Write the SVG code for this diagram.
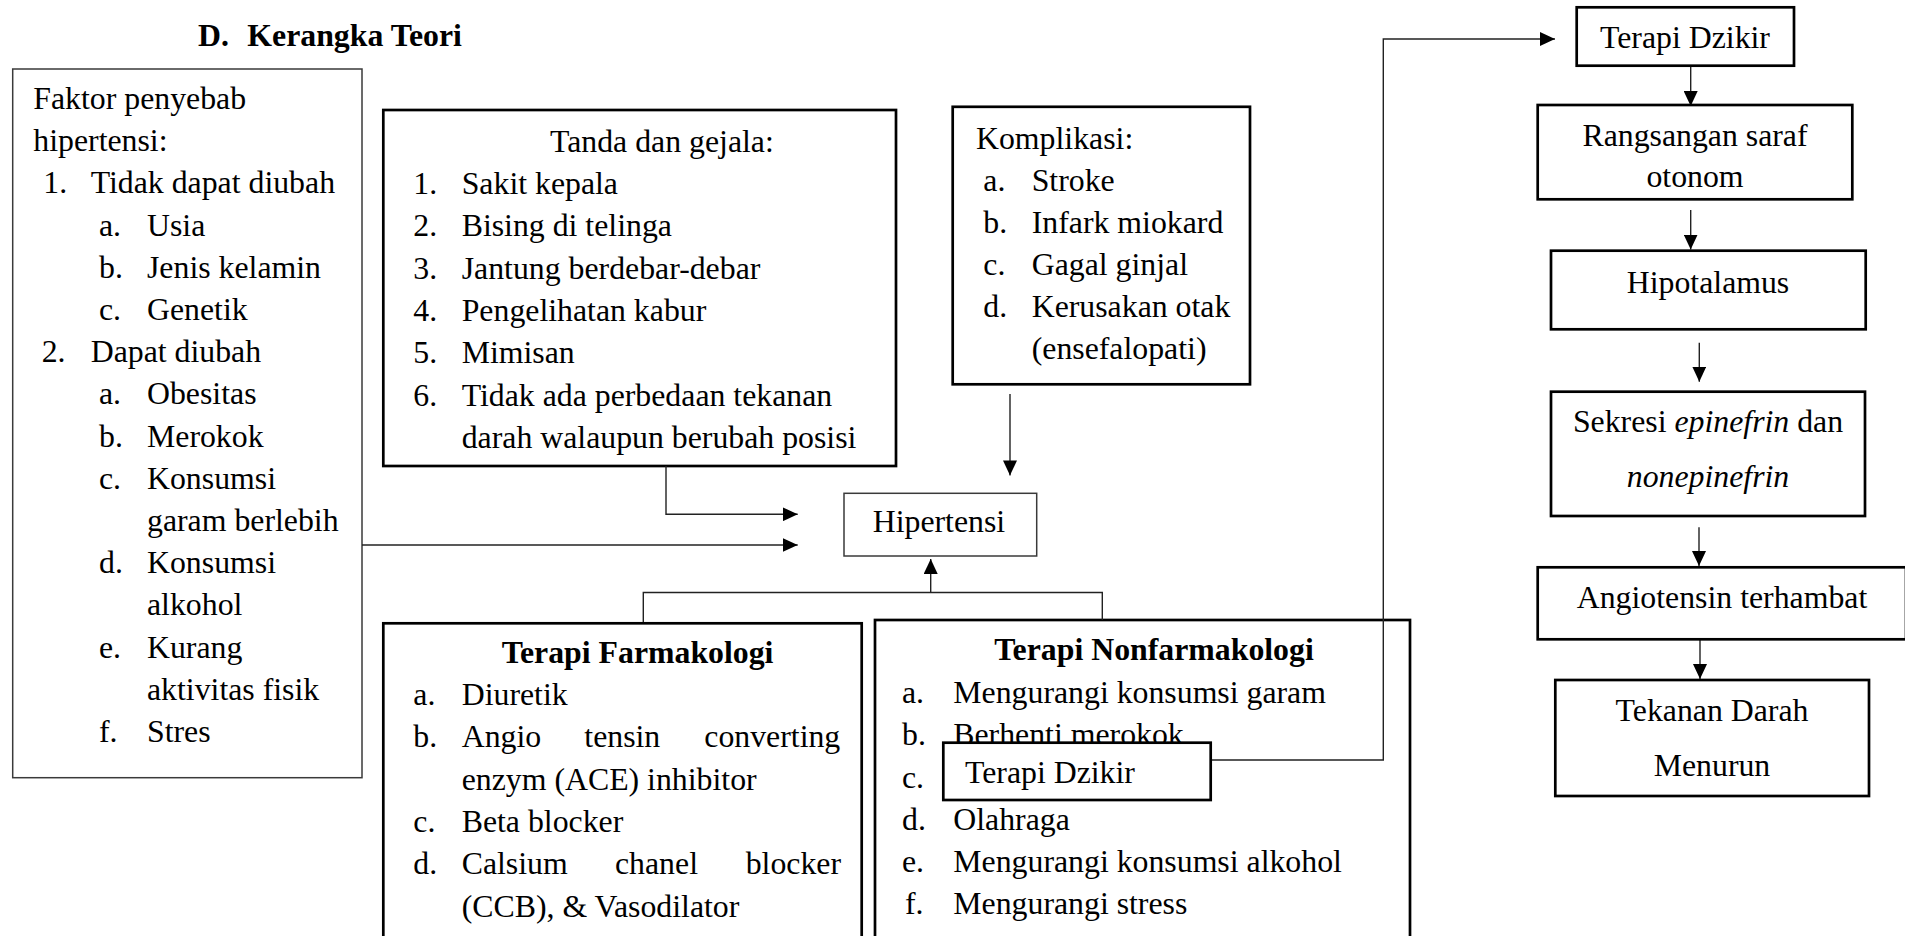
<svg xmlns="http://www.w3.org/2000/svg" width="1905" height="936" viewBox="0 0 1905 936">
<style>
.t{font-family:"Liberation Serif","Times New Roman",serif;font-size:31.8px;fill:#000}
.b{font-weight:bold}
.i{font-style:italic}
.m{text-anchor:middle}
.thin{fill:#fff;stroke:#3a3a3a;stroke-width:1.5}
.thick{fill:#fff;stroke:#000;stroke-width:2.7}
.c{fill:none;stroke:#222;stroke-width:1.4}
</style>
<defs>
<marker id="ah" viewBox="0 0 15 14" refX="15" refY="7" markerWidth="15" markerHeight="14" markerUnits="userSpaceOnUse" orient="auto"><path d="M0,0 L15,7 L0,14 Z" fill="#000"/></marker>
</defs>
<rect width="1905" height="936" fill="#fff"/>
<text class="t b" y="45.7"><tspan x="198">D.</tspan><tspan x="247.3">Kerangka Teori</tspan></text>

<g id="faktor">
<rect class="thin" x="12.7" y="69" width="349.3" height="708.7"/>
<text class="t" x="33.3" y="109">Faktor penyebab</text>
<text class="t" x="33.3" y="151.2">hipertensi:</text>
<text class="t" x="43.3" y="193.4">1.</text><text class="t" x="90.7" y="193.4">Tidak dapat diubah</text>
<text class="t" x="99" y="235.6">a.</text><text class="t" x="147" y="235.6">Usia</text>
<text class="t" x="99" y="277.8">b.</text><text class="t" x="147" y="277.8">Jenis kelamin</text>
<text class="t" x="99" y="320">c.</text><text class="t" x="147" y="320">Genetik</text>
<text class="t" x="41.7" y="362.2">2.</text><text class="t" x="90.7" y="362.2">Dapat diubah</text>
<text class="t" x="99" y="404.4">a.</text><text class="t" x="147" y="404.4">Obesitas</text>
<text class="t" x="99" y="446.6">b.</text><text class="t" x="147" y="446.6">Merokok</text>
<text class="t" x="99" y="488.8">c.</text><text class="t" x="147" y="488.8">Konsumsi</text>
<text class="t" x="147" y="531">garam berlebih</text>
<text class="t" x="99" y="573.2">d.</text><text class="t" x="147" y="573.2">Konsumsi</text>
<text class="t" x="147" y="615.4">alkohol</text>
<text class="t" x="99" y="657.6">e.</text><text class="t" x="147" y="657.6">Kurang</text>
<text class="t" x="147" y="699.8">aktivitas fisik</text>
<text class="t" x="99" y="742">f.</text><text class="t" x="147" y="742">Stres</text>
</g>

<g id="tanda">
<rect class="thick" x="383.3" y="110" width="512.7" height="356"/>
<text class="t" x="550" y="151.7">Tanda dan gejala:</text>
<text class="t" x="413.3" y="194">1.</text><text class="t" x="461.7" y="194">Sakit kepala</text>
<text class="t" x="413.3" y="236.3">2.</text><text class="t" x="461.7" y="236.3">Bising di telinga</text>
<text class="t" x="413.3" y="278.6">3.</text><text class="t" x="461.7" y="278.6">Jantung berdebar-debar</text>
<text class="t" x="413.3" y="320.9">4.</text><text class="t" x="461.7" y="320.9">Pengelihatan kabur</text>
<text class="t" x="413.3" y="363.2">5.</text><text class="t" x="461.7" y="363.2">Mimisan</text>
<text class="t" x="413.3" y="405.5">6.</text><text class="t" x="461.7" y="405.5">Tidak ada perbedaan tekanan</text>
<text class="t" x="461.7" y="447.8">darah walaupun berubah posisi</text>
</g>

<g id="komplikasi">
<rect class="thick" x="952.7" y="106.8" width="297.3" height="277.5"/>
<text class="t" x="976" y="148.6">Komplikasi:</text>
<text class="t" x="983.3" y="190.7">a.</text><text class="t" x="1031.7" y="190.7">Stroke</text>
<text class="t" x="983.3" y="232.8">b.</text><text class="t" x="1031.7" y="232.8">Infark miokard</text>
<text class="t" x="983.3" y="274.9">c.</text><text class="t" x="1031.7" y="274.9">Gagal ginjal</text>
<text class="t" x="983.3" y="317">d.</text><text class="t" x="1031.7" y="317">Kerusakan otak</text>
<text class="t" x="1031.7" y="359.1">(ensefalopati)</text>
</g>

<g id="hipertensi">
<rect class="thin" x="844" y="493.3" width="192.7" height="62.7"/>
<text class="t" x="872.7" y="532">Hipertensi</text>
</g>

<g id="farmakologi">
<rect class="thick" x="383.3" y="623.3" width="478.4" height="330"/>
<text class="t b" x="501.7" y="663.3">Terapi Farmakologi</text>
<text class="t" x="413.3" y="705">a.</text><text class="t" x="461.7" y="705">Diuretik</text>
<text class="t" x="413.3" y="747.3">b.</text><text class="t" y="747.3"><tspan x="461.7">Angio</tspan><tspan x="584.3">tensin</tspan><tspan x="704.3">converting</tspan></text>
<text class="t" x="461.7" y="789.6">enzym (ACE) inhibitor</text>
<text class="t" x="413.3" y="831.9">c.</text><text class="t" x="461.7" y="831.9">Beta blocker</text>
<text class="t" x="413.3" y="874.2">d.</text><text class="t" y="874.2"><tspan x="461.7">Calsium</tspan><tspan x="615">chanel</tspan><tspan x="745.7">blocker</tspan></text>
<text class="t" x="461.7" y="916.5">(CCB), &amp; Vasodilator</text>
</g>

<g id="nonfarmakologi">
<rect class="thick" x="875" y="620" width="535" height="330"/>
<text class="t b" x="994.3" y="660">Terapi Nonfarmakologi</text>
<text class="t" x="902" y="703.3">a.</text><text class="t" x="953.3" y="703.3">Mengurangi konsumsi garam</text>
<text class="t" x="902" y="745.4">b.</text><text class="t" x="953.3" y="745.4">Berhenti merokok</text>
<text class="t" x="902" y="787.5">c.</text>
<text class="t" x="902" y="829.6">d.</text><text class="t" x="953.3" y="829.6">Olahraga</text>
<text class="t" x="902" y="871.7">e.</text><text class="t" x="953.3" y="871.7">Mengurangi konsumsi alkohol</text>
<text class="t" x="905" y="913.8">f.</text><text class="t" x="953.3" y="913.8">Mengurangi stress</text>
</g>

<g id="connectors">
<path class="c" d="M362,545 H797.7" marker-end="url(#ah)"/>
<path class="c" d="M666,466 V514.3 H797.7" marker-end="url(#ah)"/>
<path class="c" d="M1010,394 V475.4" marker-end="url(#ah)"/>
<path class="c" d="M643.3,622 V592.5 H1102.3 V620"/>
<path class="c" d="M930.7,592.5 V559" marker-end="url(#ah)"/>
<path class="c" d="M1210.7,760 H1383.3 V39 H1555" marker-end="url(#ah)"/>
<path class="c" d="M1690.7,67 V106" marker-end="url(#ah)"/>
<path class="c" d="M1690.7,210 V249.5" marker-end="url(#ah)"/>
<path class="c" d="M1699.3,342.7 V381.7" marker-end="url(#ah)"/>
<path class="c" d="M1699,527.3 V566" marker-end="url(#ah)"/>
<path class="c" d="M1700,640 V679" marker-end="url(#ah)"/>
</g>

<g id="dzikir-inner">
<rect class="thick" x="943.3" y="742.7" width="267.4" height="57.3"/>
<text class="t" x="965" y="782.7">Terapi Dzikir</text>
</g>

<g id="dzikir">
<rect class="thick" x="1576.7" y="7.3" width="217.3" height="58.4"/>
<text class="t m" x="1685" y="48.3">Terapi Dzikir</text>
</g>

<g id="rangsangan">
<rect class="thick" x="1537.7" y="105" width="314.6" height="94.3"/>
<text class="t m" x="1695" y="145.7">Rangsangan saraf</text>
<text class="t m" x="1695" y="187.3">otonom</text>
</g>

<g id="hipotalamus">
<rect class="thick" x="1551" y="250.7" width="314.7" height="78.6"/>
<text class="t m" x="1708" y="292.7">Hipotalamus</text>
</g>

<g id="sekresi">
<rect class="thick" x="1551" y="391.7" width="314" height="124.3"/>
<text class="t m" x="1708" y="432.3">Sekresi <tspan class="i">epinefrin</tspan> dan</text>
<text class="t m i" x="1708" y="487">nonepinefrin</text>
</g>

<g id="angiotensin">
<rect class="thick" x="1537.7" y="567.3" width="368.3" height="72"/>
<text class="t m" x="1722" y="607.7">Angiotensin terhambat</text>
</g>

<g id="tekanan">
<rect class="thick" x="1555.3" y="680" width="313.7" height="116"/>
<text class="t m" x="1712" y="720.7">Tekanan Darah</text>
<text class="t m" x="1712" y="775.7">Menurun</text>
</g>
</svg>
